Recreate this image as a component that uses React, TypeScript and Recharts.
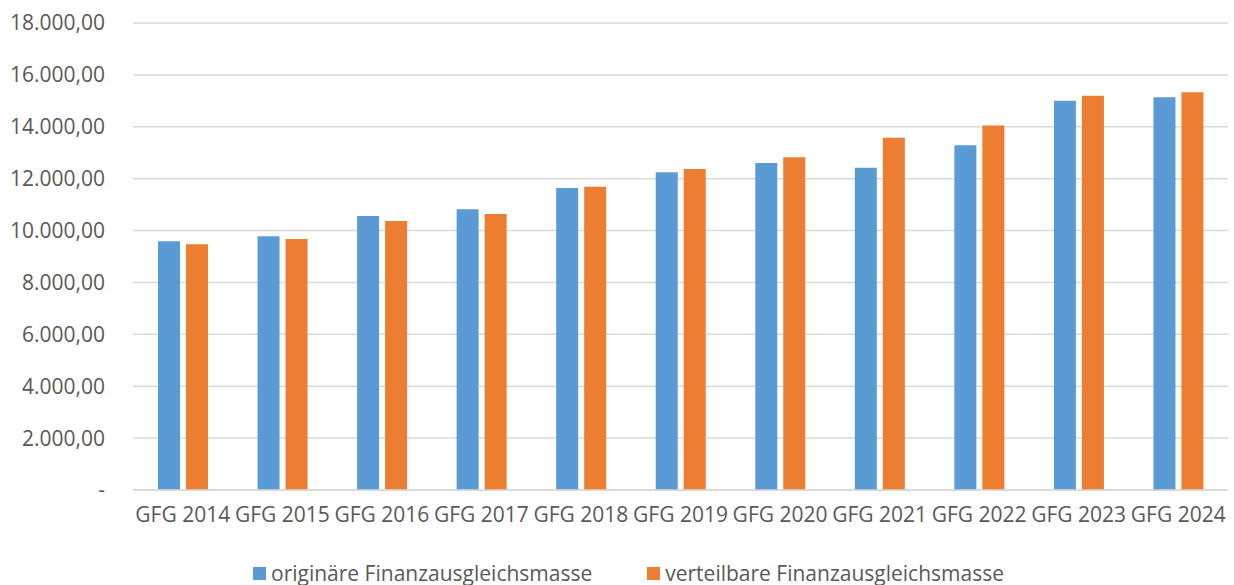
import React from 'react';
import { BarChart, Bar, XAxis, YAxis, CartesianGrid, Legend } from 'recharts';

const categories = ['GFG 2014', 'GFG 2015', 'GFG 2016', 'GFG 2017', 'GFG 2018', 'GFG 2019', 'GFG 2020', 'GFG 2021', 'GFG 2022', 'GFG 2023', 'GFG 2024'];
const originaere = [9590, 9780, 10560, 10820, 11640, 12250, 12605, 12425, 13290, 15000, 15140];
const verteilbare = [9470, 9675, 10370, 10640, 11690, 12375, 12825, 13580, 14045, 15200, 15330];
const yTicks = [0, 2000, 4000, 6000, 8000, 10000, 12000, 14000, 16000, 18000];
const seriesNames = ['originäre Finanzausgleichsmasse', 'verteilbare Finanzausgleichsmasse'];
const colors = ['#5B9BD5', '#ED7D31'];

const data = categories.map((c, i) => ({ name: c, a: originaere[i], b: verteilbare[i] }));

const FONT = '"Open Sans", sans-serif';
const TEXT = '#595959';
const FS = 21;

const fmt = (v: number) => {
  if (v === 0) return '-';
  const s = v.toFixed(2).replace('.', ',');
  const [i, d] = s.split(',');
  return i.replace(/\B(?=(\d{3})+(?!\d))/g, '.') + ',' + d;
};

const LegendContent = () => (
  <div style={{ display: 'flex', justifyContent: 'center', alignItems: 'center', height: 30, paddingLeft: 23, fontFamily: FONT, fontSize: FS, color: TEXT, position: 'relative', top: 3 }}>
    {seriesNames.map((n, i) => (
      <div key={n} style={{ display: 'flex', alignItems: 'center', marginRight: i === 0 ? 55 : 0 }}>
        <div style={{ width: 13, height: 13, background: colors[i], marginRight: 5 }} />
        <span>{n}</span>
      </div>
    ))}
  </div>
);

export default function App() {
  return (
    <div style={{ position: 'absolute', left: 0, top: 0, width: 1234, height: 585, background: '#fff' }}>
      <BarChart width={1234} height={585} data={data} margin={{ top: 23, right: 6, left: 0, bottom: 0 }} barSize={22} barGap={6}>
        <CartesianGrid vertical={false} stroke="#d9d9d9" strokeWidth={1.5} />
        <XAxis dataKey="name" axisLine={{ stroke: '#d9d9d9', strokeWidth: 1.5 }} tickLine={false} tickSize={0} tickMargin={17} height={65} interval={0}
          tick={{ fill: TEXT, fontSize: FS, fontFamily: FONT }} />
        <YAxis width={133} domain={[0, 18000]} ticks={yTicks} tickFormatter={fmt} axisLine={false} tickLine={false} tickSize={0} tickMargin={28}
          tick={{ fill: TEXT, fontSize: FS, fontFamily: FONT }} />
        <Legend verticalAlign="bottom" content={<LegendContent />} wrapperStyle={{ height: 30, left: 0, width: 1234 }} />
        <Bar dataKey="a" name={seriesNames[0]} fill={colors[0]} isAnimationActive={false} />
        <Bar dataKey="b" name={seriesNames[1]} fill={colors[1]} isAnimationActive={false} />
      </BarChart>
    </div>
  );
}
